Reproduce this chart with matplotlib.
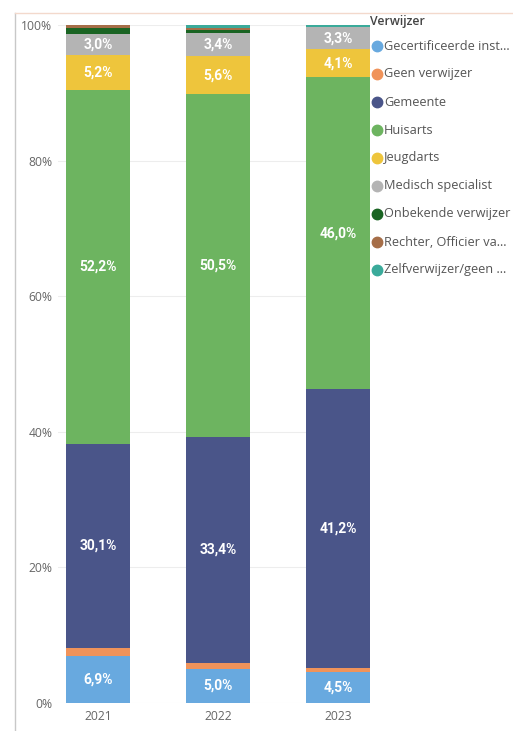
import numpy as np
import matplotlib
matplotlib.use('Agg')
import matplotlib.pyplot as plt
from matplotlib.lines import Line2D

# Data (percentages per year, stacked bottom -> top)
jaren = ['2021', '2022', '2023']
verwijzers = ['Gecertificeerde inst...', 'Geen verwijzer', 'Gemeente', 'Huisarts',
              'Jeugdarts', 'Medisch specialist', 'Onbekende verwijzer',
              'Rechter, Officier va...', 'Zelfverwijzer/geen ...']
gecertificeerd = [6.9, 5.0, 4.5]
geen_verwijzer = [1.2, 0.9, 0.6]
gemeente = [30.1, 33.4, 41.2]
huisarts = [52.2, 50.5, 46.0]
jeugdarts = [5.2, 5.6, 4.1]
medisch = [3.0, 3.4, 3.3]
onbekend = [1.0, 0.4, 0.0]
rechter = [0.4, 0.3, 0.0]
zelf = [0.0, 0.5, 0.3]

series = [gecertificeerd, geen_verwijzer, gemeente, huisarts, jeugdarts,
          medisch, onbekend, rechter, zelf]
kleuren = ['#68A9DF', '#F0935A', '#4A5589', '#6DB460', '#EEC53C',
           '#B4B4B4', '#1A6423', '#A66E48', '#3AAA9A']

plt.rcParams['font.family'] = ['Open Sans', 'DejaVu Sans']

fig = plt.figure(figsize=(5.13, 7.31), dpi=100)
W, H = 513, 731
# axes in pixel terms: x 58..370, y 25..703
ax = fig.add_axes([58 / W, (H - 703) / H, (370 - 58) / W, (703 - 25) / H])

x = np.arange(len(jaren))
bottom = np.zeros(len(jaren))
for naam, vals, kl in zip(verwijzers, series, kleuren):
    vals = np.array(vals)
    ax.bar(x, vals, bottom=bottom, width=0.53, color=kl, zorder=2)
    for xi, b, v in zip(x, bottom, vals):
        if v >= 2:
            ax.text(xi, b + v / 2, f'{v:.1f}'.replace('.', ',') + '%',
                    ha='center', va='center', color='white', fontsize=10,
                    fontweight='bold', family='Roboto', zorder=3)
    bottom += vals

ax.set_xlim(-0.333, 2.267)
ax.set_ylim(0, 100)
ax.set_yticks([0, 20, 40, 60, 80, 100])
ax.set_yticklabels(['0%', '20%', '40%', '60%', '80%', '100%'])
ax.set_xticks(x)
ax.set_xticklabels(jaren)
ax.tick_params(axis='both', length=0, labelsize=8.7, colors='#666666')
ax.tick_params(axis='y', pad=4)
ax.tick_params(axis='x', pad=5)
ax.grid(axis='y', color='#EDEDED', linewidth=0.8, zorder=0)
for s in ax.spines.values():
    s.set_visible(False)

# visual border (left and top)
fig.add_artist(Line2D([15 / W, 15 / W], [0, (H - 13) / H], color='#C8C8C8', linewidth=1))
fig.add_artist(Line2D([15 / W, 1], [(H - 13) / H, (H - 13) / H], color='#F3D9CC', linewidth=1))

# legend
fig.text(370 / W, (H - 22) / H, 'Verwijzer', fontsize=8.8, color='#444444',
         fontweight='semibold', va='center', ha='left')
for i, (naam, kl) in enumerate(zip(verwijzers, kleuren)):
    yy = (H - (46 + 28 * i)) / H
    fig.add_artist(Line2D([377 / W], [yy], marker='o', markersize=7.5,
                          color=kl, linestyle='none'))
    fig.text(384 / W, yy, naam, fontsize=9.2, color='#555555', va='center', ha='left')

fig.savefig('out.png', dpi=100)
